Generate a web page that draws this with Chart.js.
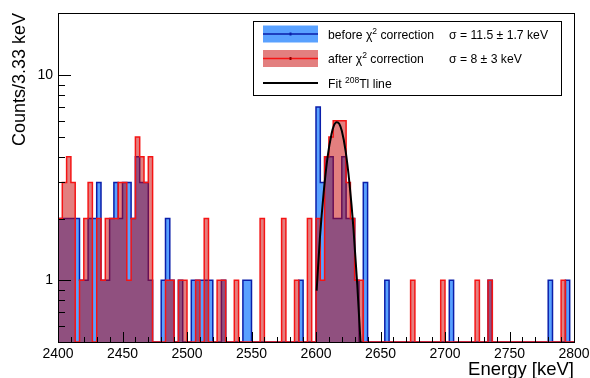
<!DOCTYPE html>
<html lang="en">
<head>
<meta charset="UTF-8">
<title>Energy spectrum</title>
<script src="https://cdn.jsdelivr.net/npm/chart.js@4.4.1/dist/chart.umd.min.js"></script>
<style>
  html, body { margin: 0; padding: 0; background: #fff; }
</style>
</head>
<body>
<canvas id="myChart" width="590" height="378"></canvas>
<script>
// binning of the histograms (keV)
const binStart = 2400;
const binWidth = 10 / 3;

// counts per 3.33 keV bin, 120 bins from 2400 to 2800 keV
const countsBefore = [
  2,2,2,2,2,1,1,2,2,3,
  1,1,2,3,2,3,3,2,4,3,
  3,1,0,0,1,2,1,0,1,0,
  0,1,1,1,1,1,0,0,1,0,
  0,0,0,1,1,0,0,0,0,0,
  0,0,0,0,0,0,1,0,0,0,
  7,3,4,4,2,2,4,2,2,1,
  0,3,0,0,0,0,1,0,0,0,
  0,0,0,0,0,0,0,0,0,0,
  0,1,0,0,0,0,0,0,0,0,
  1,0,0,0,0,0,0,0,0,0,
  0,0,0,0,1,0,0,0,1,0
];
const countsAfter = [
  2,3,4,3,0,1,2,3,0,2,
  1,2,2,2,3,3,1,2,5,4,
  3,4,0,0,0,1,1,0,1,1,
  0,0,1,0,2,0,0,1,1,0,
  0,1,0,0,0,0,0,2,0,0,
  0,0,2,0,0,1,0,0,2,0,
  2,1,4,5,6,6,6,3,2,1,
  1,0,0,0,0,0,0,0,0,0,
  0,0,1,0,0,0,0,0,0,1,
  0,0,0,0,0,0,0,1,0,0,
  1,0,0,0,0,0,0,0,0,0,
  0,0,0,0,0,0,0,1,0,0
];

// 208Tl fit curve
const fitEnergy = [2600.5, 2603, 2606, 2609, 2612, 2614, 2616, 2618, 2620, 2623, 2626, 2629, 2632, 2634.5];
const fitCounts = [0.89, 1.6, 2.7, 4.0, 5.15, 5.7, 5.9, 5.8, 5.35, 4.25, 2.95, 1.8, 0.95, 0.5];

const xTicks = [2400, 2450, 2500, 2550, 2600, 2650, 2700, 2750, 2800];
const yTicks = [1, 10];
const yMinorTicks = [0.5, 0.6, 0.7, 0.8, 0.9, 2, 3, 4, 5, 6, 7, 8, 9, 20];
const yMin = 0.5, yMax = 20;

const FONT = "'Liberation Sans', Arial, Helvetica, sans-serif";
const BLUE_FILL = 'rgba(0,110,255,0.65)', BLUE_LINE = 'rgb(10,30,170)';
const RED_FILL = 'rgba(200,0,0,0.5)', RED_LINE = 'rgb(245,20,20)';

// step points for a histogram: one point per low edge + closing edge.
// empty bins sit on the axis floor (log scale can't show 0)
function histPoints(counts) {
  const pts = counts.map((c, i) => ({ x: binStart + i * binWidth, y: c > 0 ? c : yMin }));
  pts.push({ x: binStart + counts.length * binWidth, y: pts[pts.length - 1].y });
  return pts;
}

// draws text made of pieces, some of them superscript
function drawPieces(ctx, pieces, x, y, size) {
  let cx = x;
  pieces.forEach(p => {
    const s = p.sup ? size * 0.7 : size;
    ctx.font = s + "px " + FONT;
    ctx.fillText(p.t, cx, p.sup ? y - size * 0.38 : y);
    cx += ctx.measureText(p.t).width;
  });
}

const rootFrame = {
  id: 'rootFrame',
  afterDatasetsDraw(chart) {
    const ctx = chart.ctx;
    const a = chart.chartArea;
    const xs = chart.scales.x, ys = chart.scales.y;
    ctx.save();
    ctx.strokeStyle = '#000';
    ctx.lineWidth = 1;
    ctx.beginPath();
    // x ticks, inside the frame
    for (let v = 2400; v <= 2800; v += 10) {
      const px = Math.round(xs.getPixelForValue(v)) + 0.5;
      const len = (v % 50 === 0) ? 10 : 5;
      ctx.moveTo(px, a.bottom);
      ctx.lineTo(px, a.bottom - len);
    }
    // y ticks
    yTicks.forEach(v => {
      const py = Math.round(ys.getPixelForValue(v)) + 0.5;
      ctx.moveTo(a.left, py);
      ctx.lineTo(a.left + 13, py);
    });
    yMinorTicks.forEach(v => {
      const py = Math.round(ys.getPixelForValue(v)) + 0.5;
      ctx.moveTo(a.left, py);
      ctx.lineTo(a.left + 7, py);
    });
    ctx.stroke();
    ctx.strokeRect(Math.round(a.left) + 0.5, Math.round(a.top) + 0.5,
                   Math.round(a.right - a.left), Math.round(a.bottom - a.top));
    ctx.restore();
  },
  afterDraw(chart) {
    const ctx = chart.ctx;
    ctx.save();
    ctx.fillStyle = '#000';

    // axis titles
    ctx.font = "18.5px " + FONT;
    ctx.textAlign = 'right';
    ctx.textBaseline = 'alphabetic';
    ctx.fillText('Energy [keV]', 574, 375);
    ctx.font = "18px " + FONT;
    ctx.save();
    ctx.translate(25, 13);
    ctx.rotate(-Math.PI / 2);
    ctx.fillText('Counts/3.33 keV', 0, 0);
    ctx.restore();

    // legend box
    ctx.fillStyle = '#fff';
    ctx.fillRect(253, 21, 309, 75);
    ctx.strokeStyle = '#000';
    ctx.lineWidth = 1;
    ctx.strokeRect(253.5, 21.5, 308, 74);

    const rows = [34, 58.5, 83];
    // swatches: fill, line and a small marker
    ctx.fillStyle = BLUE_FILL;
    ctx.fillRect(263, rows[0] - 8.5, 55, 17);
    ctx.fillStyle = RED_FILL;
    ctx.fillRect(263, rows[1] - 8.5, 55, 17);
    ctx.lineWidth = 1.5;
    ctx.strokeStyle = BLUE_LINE;
    ctx.beginPath(); ctx.moveTo(263, rows[0]); ctx.lineTo(318, rows[0]); ctx.stroke();
    ctx.fillStyle = BLUE_LINE;
    ctx.fillRect(289.5, rows[0] - 1.5, 2, 3);
    ctx.strokeStyle = RED_LINE;
    ctx.beginPath(); ctx.moveTo(263, rows[1]); ctx.lineTo(318, rows[1]); ctx.stroke();
    ctx.fillStyle = 'rgb(150,0,0)';
    ctx.fillRect(289.5, rows[1] - 1.5, 2, 3);
    ctx.strokeStyle = '#000';
    ctx.lineWidth = 2;
    ctx.beginPath(); ctx.moveTo(263, rows[2]); ctx.lineTo(318, rows[2]); ctx.stroke();

    ctx.fillStyle = '#000';
    ctx.textAlign = 'left';
    ctx.textBaseline = 'alphabetic';
    const fs = 12.2;
    drawPieces(ctx, [{ t: 'before \u03C7' }, { t: '2', sup: true }, { t: ' correction' }], 328, rows[0] + 4.5, fs);
    drawPieces(ctx, [{ t: 'after \u03C7' }, { t: '2', sup: true }, { t: ' correction' }], 328, rows[1] + 4.5, fs);
    drawPieces(ctx, [{ t: 'Fit ' }, { t: '208', sup: true }, { t: 'Tl line' }], 328, rows[2] + 4.5, fs);
    drawPieces(ctx, [{ t: '\u03C3 = 11.5 \u00B1 1.7 keV' }], 449, rows[0] + 4.5, fs);
    drawPieces(ctx, [{ t: '\u03C3 = 8 \u00B1 3 keV' }], 449, rows[1] + 4.5, fs);
    ctx.restore();
  }
};

const ctx = document.getElementById('myChart').getContext('2d');
const myChart = new Chart(ctx, {
  type: 'line',
  data: {
    datasets: [
      {
        label: 'Fit 208Tl line',
        data: fitEnergy.map((e, i) => ({ x: e, y: fitCounts[i] })),
        borderColor: '#000',
        borderWidth: 2,
        fill: false,
        cubicInterpolationMode: 'monotone',
        order: 0
      },
      {
        label: 'after chi2 correction',
        data: histPoints(countsAfter),
        stepped: 'before',   // value holds from its low edge to the next edge
        borderColor: RED_LINE,
        backgroundColor: RED_FILL,
        borderWidth: 1.5,
        fill: 'start',
        order: 1
      },
      {
        label: 'before chi2 correction',
        data: histPoints(countsBefore),
        stepped: 'before',
        borderColor: BLUE_LINE,
        backgroundColor: BLUE_FILL,
        borderWidth: 1.5,
        fill: 'start',
        order: 2
      }
    ]
  },
  options: {
    responsive: false,
    animation: false,
    devicePixelRatio: 1,
    layout: { padding: { top: 13, right: 16, left: 0, bottom: 0 } },
    elements: { point: { radius: 0 } },
    plugins: {
      legend: { display: false },
      tooltip: { enabled: false }
    },
    scales: {
      x: {
        type: 'linear',
        min: 2400,
        max: 2800,
        grid: { display: false, drawTicks: false },
        border: { display: false },
        afterBuildTicks: s => { s.ticks = xTicks.map(v => ({ value: v })); },
        afterFit: s => { s.height = 36; s.paddingLeft = 0; s.paddingRight = 0; },
        ticks: {
          autoSkip: false, maxRotation: 0, padding: 4, color: '#000',
          font: { family: FONT, size: 14 },
          callback: v => String(v)
        }
      },
      y: {
        type: 'logarithmic',
        min: yMin,
        max: yMax,
        grid: { display: false, drawTicks: false },
        border: { display: false },
        afterBuildTicks: s => { s.ticks = yTicks.map(v => ({ value: v })); },
        afterFit: s => { s.width = 58; },
        ticks: {
          padding: 5, color: '#000',
          font: { family: FONT, size: 14 },
          callback: v => String(v)
        }
      }
    }
  },
  plugins: [rootFrame]
});
</script>
</body>
</html>
